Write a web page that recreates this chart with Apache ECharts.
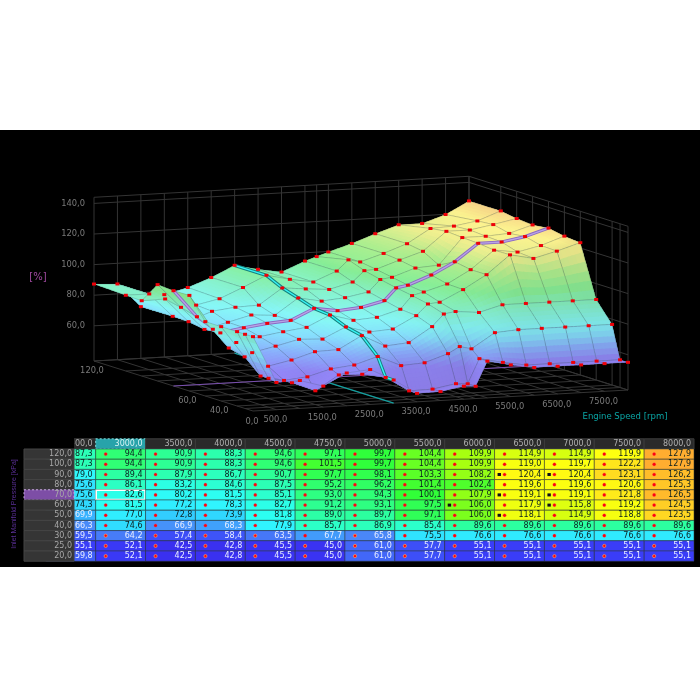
<!DOCTYPE html>
<html><head><meta charset="utf-8">
<style>html,body{margin:0;padding:0;background:#fff}#c{width:700px;height:700px}</style>
<script src="https://cdn.jsdelivr.net/npm/echarts@6/dist/echarts.min.js"></script>
</head><body><div id="c"></div>
<script>
// ---------- data ----------
const rpmAxis  = [0,500,1000,1500,2000,2500,3000,3500,4000,4500,4750,5000,5500,6000,6500,7000,7500,8000];
const loadAxis = [120,100,90,80,70,60,50,40,30,25,20];
const row120 = [87.3,86.5,70.8,77.8,81.6,87.3,94.4,90.9,88.3,94.6,97.1,99.7,104.4,109.9,114.9,114.9,119.9,127.9];
const row100 = [86.5,86.5,71.0,77.5,80.8,87.3,94.4,90.9,88.3,94.6,101.5,99.7,104.4,109.9,119.0,119.7,122.2,127.9];
const row90  = [86.2,86.5,70.8,76.7,78.5,79.0,89.4,87.9,86.7,90.7,97.7,98.1,103.3,108.2,120.4,120.4,123.1,126.2];
const row80  = [100.0,84.3,69.0,72.8,76.7,75.6,86.1,83.2,84.6,87.5,95.2,96.2,101.4,102.4,119.6,119.6,120.6,125.3];
const row70  = [99.3,81.4,70.0,72.5,74.5,75.6,82.6,80.2,81.5,85.1,93.0,94.3,100.1,107.9,119.1,119.1,121.8,126.5];
const row60  = [99.5,76.5,67.0,69.9,72.3,74.3,81.5,77.2,78.3,82.7,91.2,93.1,97.5,106.0,117.9,115.8,119.2,124.5];
const row50  = [85.6,67.5,63.6,67.0,70.6,69.9,77.0,72.8,73.9,81.8,89.0,89.7,97.1,106.0,118.1,114.9,118.8,123.5];
const row40  = [85.6,65.0,58.0,61.2,65.8,66.3,74.6,66.9,68.3,77.9,85.7,86.9,85.4,89.6,89.6,89.6,89.6,89.6];
const row30  = [85.6,55.7,52.0,53.5,57.8,59.5,64.2,57.4,58.4,63.5,67.7,65.8,75.5,76.6,76.6,76.6,76.6,76.6];
const row25  = [85.5,55.9,52.1,46.0,55.5,55.1,52.1,42.5,42.8,45.5,45.0,61.0,57.7,55.1,55.1,55.1,55.1,55.1];
const row20  = [85.6,54.8,55.2,50.7,58.4,59.8,52.1,42.5,42.8,45.5,45.0,61.0,57.7,55.1,55.1,55.1,55.1,55.1];
const table = [row120,row100,row90,row80,row70,row60,row50,row40,row30,row25,row20];
const valueTicks = [60,80,100,120,140];
const loadTickLabels = [120,60,40];
const rpmTickLabels = [0,500,1500,2500,3500,4500,5500,6500,7500];
const firstTableCol = 5;            // table starts at 2500 rpm
const selectedLoad = 70, selectedRpm = 3000;
const blackMarks = [[90,6500],[90,7000],[70,6500],[70,7000],[60,6000],[60,7000],[50,6500]];
// colour ramps: [value, colour]
const tableRamp = [[42,'#3a30f0'],[55,'#3a3cf8'],[60,'#4060f8'],[66,'#4a88f8'],[70,'#38b4ff'],[74,'#30d8ff'],[78,'#30f4ff'],[82,'#2cfff0'],[86,'#2cffc4'],[90,'#2cff9c'],[95,'#30ff70'],[100,'#30ff38'],[105,'#70ff20'],[110,'#a8ff10'],[115,'#d8ff10'],[120,'#ffff10'],[123,'#ffdc20'],[128,'#ffac30']];
const surfaceRamp = [[42,'#9484f4'],[56,'#9488fa'],[64,'#8cb0ff'],[72,'#88e4ff'],[78,'#88f8f8'],[86,'#88f4d0'],[96,'#88f098'],[106,'#b0f090'],[116,'#ecf090'],[122,'#fdf490'],[128,'#f8d488']];

// ---------- helpers ----------
const FONT = '"DejaVu Sans"';
function ramp(stops, v){
  if(v<=stops[0][0]) return stops[0][1];
  for(let k=1;k<stops.length;k++){
    if(v<=stops[k][0]){
      const t=(v-stops[k-1][0])/(stops[k][0]-stops[k-1][0]);
      return echarts.color.lerp(t,[stops[k-1][1],stops[k][1]]);
    }
  }
  return stops[stops.length-1][1];
}
// 3D (rpm, load, value) -> picture plane of the hidden projection grid
const VMIN=37, VMAX=144;
function proj(rpm,load,val){
  return [253+rpm*0.046875-(load-20)*1.59, 411-rpm*0.002625-(load-20)*0.5-(val-VMIN)*1.53];
}
const nR=rpmAxis.length, nL=loadAxis.length;
// vertex shading from slope
const shadeAt=[];
for(let j=0;j<nL;j++){shadeAt.push([]);for(let i=0;i<nR;i++){
  const a=table[j][Math.max(i-1,0)],b=table[j][Math.min(i+1,nR-1)];
  const c=table[Math.max(j-1,0)][i],d=table[Math.min(j+1,nL-1)][i];
  const dr=(b-a)/(rpmAxis[Math.min(i+1,nR-1)]-rpmAxis[Math.max(i-1,0)])*500;
  const dl=(c-d)/(loadAxis[Math.max(j-1,0)]-loadAxis[Math.min(j+1,nL-1)])*10;
  const s=1/Math.sqrt(1+(dl*dl+dr*dr*0.5)*0.006);
  shadeAt[j].push(0.84+0.16*s);
}}
function surfColor(v,s){
  const c=echarts.color.parse(ramp(surfaceRamp,v));
  return 'rgb('+Math.round(c[0]*s)+','+Math.round(c[1]*s)+','+Math.round(c[2]*s)+')';
}
function bil(g,j,i,u,w){
  return g[j][i]*(1-u)*(1-w)+g[j][i+1]*u*(1-w)+g[j+1][i]*(1-u)*w+g[j+1][i+1]*u*w;
}
// painter's list: far first
const items=[];
for(let j=0;j<nL-1;j++)for(let i=0;i<nR-1;i++){
  items.push({k:'cell',i,j,d:(rpmAxis[i]+rpmAxis[i+1])/16000+(loadAxis[j]+loadAxis[j+1]-40)/200});
}
const jSel=loadAxis.indexOf(selectedLoad), iSel=rpmAxis.indexOf(selectedRpm);
for(let i=0;i<nR-1;i++) items.push({k:'rowSeg',i,j:jSel,d:(rpmAxis[i]+rpmAxis[i+1])/16000+(selectedLoad-20)/100-0.06});
for(let j=0;j<nL-1;j++) items.push({k:'colSeg',i:iSel,j,d:selectedRpm/8000+(loadAxis[j]+loadAxis[j+1]-40)/200-0.04});
items.sort((a,b)=>b.d-a.d);
items.forEach((o,n)=>o.n=n);

function line(api,a,b,stroke,w){
  const p=api.coord(a),q=api.coord(b);
  return {type:'line',shape:{x1:p[0],y1:p[1],x2:q[0],y2:q[1]},style:{stroke:stroke,lineWidth:w||1},silent:true};
}
function label(api,p,text,fill,align,size){
  const q=api.coord(p);
  return {type:'text',style:{x:q[0],y:q[1],text:text,fill:fill,align:align||'center',verticalAlign:'middle',font:(size||8.3)+'px '+FONT},silent:true};
}
const fmt=v=>v.toFixed(1).replace('.',',');

// ---------- 3D frame ----------
function renderFrame(params,api){
  const c=[], G='#343434', T='#7a7a7a';
  const hs=[VMIN].concat(valueTicks,[VMAX]);
  hs.forEach(v=>{
    c.push(line(api,proj(0,120,v),proj(8000,120,v),G));
    c.push(line(api,proj(8000,120,v),proj(8000,20,v),G));
  });
  rpmAxis.forEach(r=>{
    c.push(line(api,proj(r,120,VMIN),proj(r,120,VMAX),G));
    c.push(line(api,proj(r,120,VMIN),proj(r,20,VMIN),G));
  });
  loadAxis.forEach(l=>{
    c.push(line(api,proj(8000,l,VMIN),proj(8000,l,VMAX),G));
    c.push(line(api,proj(0,l,VMIN),proj(8000,l,VMIN),G));
  });
  // cursor lines on the floor
  c.push(line(api,proj(0,selectedLoad,VMIN),proj(8000,selectedLoad,VMIN),'#7a4fb0',1.2));
  c.push(line(api,proj(selectedRpm,120,VMIN),proj(selectedRpm,20,VMIN),'#12a0a0',1.2));
  valueTicks.forEach(v=>{const p=proj(0,120,v);c.push(label(api,[p[0]-9,p[1]],fmt(v),T,'right'));});
  loadTickLabels.forEach(l=>{const p=proj(0,l,VMIN);c.push(label(api,[p[0]-2,p[1]+10],fmt(l),T));});
  rpmTickLabels.forEach(r=>{const p=proj(r,20,VMIN);c.push(label(api,[p[0]-1,p[1]+10.5],fmt(r),T));});
  c.push(label(api,[38,277],'[%]','#a24aa2','center',10));
  c.push(label(api,[625,417],'Engine Speed [rpm]','#0aa5a5','center',8.5));
  return {type:'group',children:c};
}
// ---------- surface ----------
const SUB=6, OVER=1.35;
function renderSurface(params,api){
  const o=items[params.dataIndex], c=[];
  const i=o.i,j=o.j;
  if(o.k==='cell'){
    const r0=rpmAxis[i],r1=rpmAxis[i+1],l0=loadAxis[j],l1=loadAxis[j+1];
    const P=(u,w)=>api.coord(proj(r0+(r1-r0)*u,l0+(l1-l0)*w,bil(table,j,i,u,w)));
    const base=surfColor(bil(table,j,i,.5,.5),bil(shadeAt,j,i,.5,.5));
    c.push({type:'polygon',shape:{points:[P(0,0),P(1,0),P(1,1),P(0,1)]},style:{fill:base},silent:true});
    for(let a=0;a<SUB;a++)for(let b=0;b<SUB;b++){
      const w=(a+.5)/SUB,u=(b+.5)/SUB;
      const col=surfColor(bil(table,j,i,u,w),bil(shadeAt,j,i,u,w));
      const u1=Math.min((b+OVER)/SUB,1),w1=Math.min((a+OVER)/SUB,1);
      c.push({type:'polygon',shape:{points:[P(b/SUB,a/SUB),P(u1,a/SUB),P(u1,w1),P(b/SUB,w1)]},style:{fill:col},silent:true});
    }
    c.push({type:'polygon',shape:{points:[P(0,0),P(1,0),P(1,1),P(0,1)]},style:{fill:'none',stroke:'rgba(60,70,80,0.3)',lineWidth:0.7},silent:true});
  } else if(o.k==='rowSeg'){
    const a=proj(rpmAxis[i],loadAxis[j],table[j][i]),b=proj(rpmAxis[i+1],loadAxis[j],table[j][i+1]);
    c.push(line(api,a,b,'#8a68c4',3.2));c.push(line(api,a,b,'#b8a4e4',1.4));
  } else {
    const a=proj(rpmAxis[i],loadAxis[j],table[j][i]),b=proj(rpmAxis[i],loadAxis[j+1],table[j+1][i]);
    c.push(line(api,a,b,'#14807e',3.4));c.push(line(api,a,b,'#38f4f4',1.4));
  }
  return {type:'group',children:c};
}
function renderMarkers(params,api){
  const c=[];
  for(let j=0;j<nL;j++)for(let i=0;i<nR;i++){
    const p=api.coord(proj(rpmAxis[i],loadAxis[j],table[j][i]));
    c.push({type:'rect',shape:{x:p[0]-2,y:p[1]-1.5,width:4,height:3},style:{fill:'#ee0008'},silent:true});
  }
  return {type:'group',children:c};
}
// ---------- table ----------
function isBlack(l,r){return blackMarks.some(m=>m[0]===l&&m[1]===r);}
function renderTable(params,api){
  const c=[], border='rgba(50,60,60,0.5)';
  for(let i=firstTableCol;i<nR;i++){
    const x=i-firstTableCol;
    const p0=api.coord([x,-1]),p1=api.coord([x+1,0]);
    const sel=rpmAxis[i]===selectedRpm;
    c.push({type:'rect',shape:{x:p0[0],y:p0[1],width:p1[0]-p0[0],height:p1[1]-p0[1]},
      style:{fill:sel?'#27a3aa':'#2a2a2a',stroke:sel?'#7fd8d8':'#3c3c3c',lineWidth:1,lineDash:sel?[2,2]:null},silent:true});
    c.push({type:'text',style:{x:p1[0]-3,y:(p0[1]+p1[1])/2,text:fmt(rpmAxis[i]),align:'right',verticalAlign:'middle',fill:sel?'#d8f4f4':'#b0b0b0',font:'8px '+FONT},silent:true});
    for(let j=0;j<nL;j++){
      const v=table[j][i], q0=api.coord([x,j]),q1=api.coord([x+1,j+1]);
      const selCell=loadAxis[j]===selectedLoad&&sel;
      c.push({type:'rect',shape:{x:q0[0],y:q0[1],width:q1[0]-q0[0],height:q1[1]-q0[1]},style:{fill:ramp(tableRamp,v),stroke:border,lineWidth:1},silent:true});
      if(selCell) c.push({type:'rect',shape:{x:q0[0]+0.5,y:q0[1]+0.5,width:q1[0]-q0[0]-1,height:q1[1]-q0[1]-1},style:{fill:'none',stroke:'#ffffff',lineWidth:1.6},silent:true});
      const cy=(q0[1]+q1[1])/2;
      if(isBlack(loadAxis[j],rpmAxis[i])) c.push({type:'rect',shape:{x:q0[0]+3,y:cy-1.5,width:3.4,height:3},style:{fill:'#101018'},silent:true});
      c.push({type:'circle',shape:{cx:q0[0]+10,cy:cy,r:1.6},style:{fill:'#ff0010',stroke:v<66?'rgba(255,170,90,0.8)':'rgba(255,60,60,0.35)',lineWidth:0.8},silent:true});
      c.push({type:'text',style:{x:q1[0]-3,y:cy,text:fmt(v),align:'right',verticalAlign:'middle',fill:v<71?'#e8eeff':'#0c2020',font:'8px '+FONT},silent:true});
    }
  }
  return {type:'group',children:c};
}
function renderRowLabels(params,api){
  const c=[];
  const a=api.coord([LEFT_IDX,-1]), b=api.coord([FIRST_VISIBLE,0]);
  c.push({type:'rect',shape:{x:a[0]-1,y:a[1]-1,width:b[0]-a[0]+1,height:b[1]-a[1]+1},style:{fill:'#000'},silent:true});
  for(let j=0;j<nL;j++){
    const p0=api.coord([LEFT_IDX,j]),p1=api.coord([FIRST_VISIBLE,j+1]);
    const sel=loadAxis[j]===selectedLoad;
    c.push({type:'rect',shape:{x:p0[0],y:p0[1],width:p1[0]-p0[0],height:p1[1]-p0[1]},style:{fill:sel?'#7d4ea6':'#353535',stroke:sel?'#c9a8e0':'#454545',lineWidth:1,lineDash:sel?[2,2]:null},silent:true});
    c.push({type:'text',style:{x:p1[0]-2,y:(p0[1]+p1[1])/2,text:fmt(loadAxis[j]),align:'right',verticalAlign:'middle',fill:'#a8a8a8',font:'8px '+FONT},silent:true});
  }
  return {type:'group',children:c};
}
// table grid: one x unit is one column, the first table column is scrolled partly out of view
const LEFT_IDX=-0.438, FIRST_VISIBLE=0.565, RIGHT_IDX=12.98;

const chart=echarts.init(document.getElementById('c'),null,{renderer:'canvas',width:700,height:700});
chart.setOption({
  animation:false,
  backgroundColor:'#ffffff',
  graphic:[{type:'rect',z:-1,silent:true,shape:{x:0,y:130,width:700,height:437},style:{fill:'#000'}},
    {type:'text',z:5,silent:true,x:14,y:504,rotation:Math.PI/2,originX:0,originY:0,
     style:{text:'Inlet Manifold Pressure [kPa]',fill:'#5a2f96',font:'7px "Liberation Sans Narrow","Liberation Sans"',align:'center',verticalAlign:'middle'}}],
  grid:[
    {left:0,top:0,width:700,height:700,show:false},
    {left:24,top:438.8,width:669,height:122.4,show:false}
  ],
  xAxis:[
    {gridIndex:0,type:'value',min:0,max:700,show:false},
    {gridIndex:1,type:'value',min:LEFT_IDX,max:RIGHT_IDX,show:false}
  ],
  yAxis:[
    {gridIndex:0,type:'value',min:0,max:700,inverse:true,show:false},
    {gridIndex:1,type:'value',min:-1,max:11,inverse:true,show:false}
  ],
  tooltip:{show:false},
  series:[
    {type:'custom',name:'frame',xAxisIndex:0,yAxisIndex:0,z:1,clip:false,silent:true,data:[[0,0]],renderItem:renderFrame},
    {type:'custom',name:'surface',xAxisIndex:0,yAxisIndex:0,z:2,clip:false,silent:true,data:items.map(o=>[o.n,o.d]),renderItem:renderSurface},
    {type:'custom',name:'markers',xAxisIndex:0,yAxisIndex:0,z:3,clip:false,silent:true,data:[[0,0]],renderItem:renderMarkers},
    {type:'custom',name:'table',xAxisIndex:1,yAxisIndex:1,z:2,clip:false,silent:true,data:[[0,0]],renderItem:renderTable},
    {type:'custom',name:'rows',xAxisIndex:1,yAxisIndex:1,z:3,clip:false,silent:true,data:[[0,0]],renderItem:renderRowLabels}
  ]
});
</script></body></html>
